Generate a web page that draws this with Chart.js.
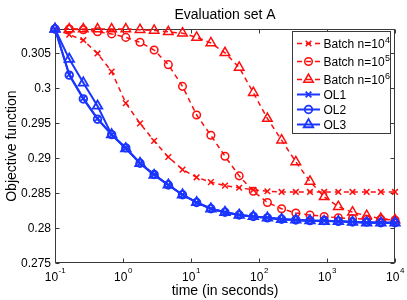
<!DOCTYPE html>
<html>
<head>
<meta charset="utf-8">
<script src="https://cdn.jsdelivr.net/npm/chart.js@4/dist/chart.umd.min.js"></script>
<style>
  html, body { margin: 0; padding: 0; background: #fff; }
  canvas { display: block; }
</style>
</head>
<body>
<canvas id="evalChart" width="407" height="300"></canvas>
<script>
// time (s) of each sample
const times = [0.1, 0.162, 0.261, 0.422, 0.681, 1.10, 1.78, 2.87, 4.64, 7.50, 12.1, 19.6, 31.6,
               51.1, 82.5, 133, 215, 348, 562, 909, 1468, 2371, 3831, 6190, 10000];

const batch4 = [0.3085, 0.3077, 0.3069, 0.3050, 0.3024, 0.2979, 0.2950, 0.2925, 0.2902, 0.2884, 0.2873, 0.2866, 0.2861,
                0.2858, 0.2855, 0.2853, 0.2852, 0.2852, 0.2852, 0.2852, 0.2852, 0.2852, 0.2852, 0.2852, 0.2852];
const batch5 = [0.3085, 0.3085, 0.3084, 0.3081, 0.3078, 0.3073, 0.3066, 0.3055, 0.3034, 0.3003, 0.2962, 0.2933, 0.2903,
                0.2875, 0.2853, 0.2837, 0.2828, 0.2822, 0.2819, 0.2817, 0.2815, 0.2814, 0.2813, 0.2813, 0.2812];
const batch6 = [0.3085, 0.3085, 0.3085, 0.3085, 0.3085, 0.3085, 0.3084, 0.3083, 0.3081, 0.3079, 0.3073, 0.3065, 0.3051,
                0.3030, 0.2994, 0.2957, 0.2926, 0.2895, 0.2867, 0.2845, 0.2831, 0.2823, 0.2818, 0.2814, 0.2812];
const ol1 = [0.3085, 0.3020, 0.2986, 0.2957, 0.2934, 0.2915, 0.2893, 0.2877, 0.2862, 0.2848, 0.2837, 0.2828, 0.2823,
             0.2819, 0.2817, 0.2815, 0.2813, 0.2812, 0.2811, 0.2811, 0.2810, 0.2809, 0.2808, 0.2808, 0.2808];
const ol2 = [0.3085, 0.3019, 0.2985, 0.2956, 0.2934, 0.2915, 0.2893, 0.2877, 0.2862, 0.2848, 0.2837, 0.2828, 0.2823,
             0.2819, 0.2817, 0.2815, 0.2813, 0.2812, 0.2811, 0.2811, 0.2810, 0.2809, 0.2809, 0.2808, 0.2808];
const ol3 = [0.3085, 0.3042, 0.3008, 0.2975, 0.2934, 0.2914, 0.2893, 0.2876, 0.2862, 0.2848, 0.2837, 0.2828, 0.2823,
             0.2819, 0.2817, 0.2815, 0.2813, 0.2812, 0.2811, 0.2810, 0.2810, 0.2809, 0.2808, 0.2808, 0.2808];

const seriesNames = ["Batch n=10", "Batch n=10", "Batch n=10", "OL1", "OL2", "OL3"];
const seriesExps = ["4", "5", "6", "", "", ""];

const xTickValues = [0.1, 1, 10, 100, 1000, 10000];
const xTickExps = ["-1", "0", "1", "2", "3", "4"];
const yTickValues = [0.275, 0.28, 0.285, 0.29, 0.295, 0.3, 0.305];

const titleText = "Evaluation set A";
const xTitle = "time (in seconds)";
const yTitle = "Objective function";

const FONT = "'Liberation Sans', Arial, Helvetica, sans-serif";
const RED = "#ff0d0d";
const BLUE = "#1a35ff";

function pts(vals) {
    return times.map((t, i) => ({ x: t, y: vals[i] }));
}

function batchSet(vals, i, style, r) {
    return {
        label: seriesNames[i] + seriesExps[i],
        data: pts(vals),
        borderColor: RED,
        borderWidth: 1.5,
        borderDash: [5, 4],
        pointStyle: style,
        pointRadius: r,
        pointBorderWidth: 1.5,
        pointBorderColor: RED,
        pointBackgroundColor: "rgba(0,0,0,0)",
        tension: 0,
        clip: false,
        order: 2
    };
}

function olSet(vals, i, style, r) {
    return {
        label: seriesNames[i],
        data: pts(vals),
        borderColor: BLUE,
        borderWidth: 2,
        pointStyle: style,
        pointRadius: r,
        pointBorderWidth: 1.8,
        pointBorderColor: BLUE,
        pointBackgroundColor: "rgba(0,0,0,0)",
        tension: 0,
        clip: false,
        order: 1
    };
}

const markerStyles = ["crossRot", "circle", "triangle", "crossRot", "circle", "triangle"];
const markerSizes = [4, 3.8, 5.5, 4, 3.8, 5.5];

function drawMarker(ctx, style, x, y, r) {
    ctx.beginPath();
    if (style === "circle") {
        ctx.arc(x, y, r, 0, Math.PI * 2);
    } else if (style === "triangle") {
        for (let k = 0; k < 3; k++) {
            const a = k * 2 * Math.PI / 3;
            const px = x + Math.sin(a) * r, py = y - Math.cos(a) * r;
            if (k === 0) ctx.moveTo(px, py); else ctx.lineTo(px, py);
        }
        ctx.closePath();
    } else {
        const d = r * Math.SQRT1_2;
        ctx.moveTo(x - d, y - d); ctx.lineTo(x + d, y + d);
        ctx.moveTo(x + d, y - d); ctx.lineTo(x - d, y + d);
    }
    ctx.stroke();
}

// axes box, inward ticks, titles, power-of-ten labels and the legend
const decor = {
    id: "decor",
    beforeDatasetsDraw(chart) {
        const { ctx, chartArea: a, scales } = chart;
        const L = Math.round(a.left) + 0.5, R = Math.round(a.right) - 0.5;
        const T = Math.round(a.top) + 0.5, B = Math.round(a.bottom) - 0.5;
        ctx.save();
        ctx.strokeStyle = "#3a3a3a";
        ctx.lineWidth = 1;
        ctx.strokeRect(L, T, R - L, B - T);
        ctx.beginPath();
        xTickValues.forEach(v => {
            const x = Math.round(scales.x.getPixelForValue(v)) + 0.5;
            ctx.moveTo(x, B); ctx.lineTo(x, B - 4);
            ctx.moveTo(x, T); ctx.lineTo(x, T + 4);
        });
        yTickValues.forEach(v => {
            const y = Math.round(scales.y.getPixelForValue(v)) + 0.5;
            ctx.moveTo(L, y); ctx.lineTo(L + 4, y);
            ctx.moveTo(R, y); ctx.lineTo(R - 4, y);
        });
        ctx.stroke();
        ctx.restore();
    },
    afterDraw(chart) {
        const { ctx, chartArea: a, scales } = chart;
        const cx = (a.left + a.right) / 2;
        ctx.save();
        ctx.fillStyle = "#000";
        ctx.textBaseline = "alphabetic";

        ctx.font = "14px " + FONT;
        ctx.textAlign = "center";
        ctx.fillText(titleText, cx, 18.5);
        ctx.fillText(xTitle, cx, 294.5);

        ctx.save();
        ctx.translate(15.5, (a.top + a.bottom) / 2);
        ctx.rotate(-Math.PI / 2);
        ctx.fillText(yTitle, 0, 0);
        ctx.restore();

        // x tick labels 10^k
        ctx.textAlign = "left";
        xTickValues.forEach((v, i) => {
            const x = scales.x.getPixelForValue(v);
            ctx.font = "12px " + FONT;
            const wb = ctx.measureText("10").width;
            ctx.font = "8px " + FONT;
            const we = ctx.measureText(xTickExps[i]).width;
            const x0 = x - (wb + we) / 2;
            ctx.font = "12px " + FONT;
            ctx.fillText("10", x0, 280.8);
            ctx.font = "8px " + FONT;
            ctx.fillText(xTickExps[i], x0 + wb + 0.5, 273);
        });

        // legend
        const lx = 292.5, ly = 31.5, lw = 98, lh = 102;
        ctx.fillStyle = "#fff";
        ctx.fillRect(lx, ly, lw, lh);
        ctx.strokeStyle = "#3a3a3a";
        ctx.lineWidth = 1;
        ctx.strokeRect(lx, ly, lw, lh);

        seriesNames.forEach((name, i) => {
            const yc = i < 3 ? 43.5 + 18 * i : 94.5 + 15 * (i - 3);
            const col = i < 3 ? RED : BLUE;
            ctx.strokeStyle = col;
            ctx.lineWidth = i < 3 ? 1.5 : 2;
            ctx.setLineDash(i < 3 ? [5, 4] : []);
            ctx.beginPath();
            ctx.moveTo(297, yc); ctx.lineTo(320, yc);
            ctx.stroke();
            ctx.setLineDash([]);
            ctx.lineWidth = i < 3 ? 1.5 : 1.8;
            drawMarker(ctx, markerStyles[i], 308.5, yc, markerSizes[i]);

            ctx.fillStyle = "#000";
            ctx.font = "12px " + FONT;
            ctx.fillText(name, 323.5, yc + 4.2);
            if (seriesExps[i]) {
                const w = ctx.measureText(name).width;
                ctx.font = "9px " + FONT;
                ctx.fillText(seriesExps[i], 323.5 + w + 0.5, yc - 0.3);
            }
        });
        ctx.restore();
    }
};

const ctx = document.getElementById("evalChart").getContext("2d");

const chart = new Chart(ctx, {
    type: "line",
    data: {
        datasets: [
            batchSet(batch4, 0, markerStyles[0], markerSizes[0]),
            batchSet(batch5, 1, markerStyles[1], markerSizes[1]),
            batchSet(batch6, 2, markerStyles[2], markerSizes[2]),
            olSet(ol1, 3, markerStyles[3], markerSizes[3]),
            olSet(ol2, 4, markerStyles[4], markerSizes[4]),
            olSet(ol3, 5, markerStyles[5], markerSizes[5])
        ]
    },
    options: {
        responsive: false,
        animation: false,
        devicePixelRatio: 1,
        layout: { padding: { top: 29, right: 12, left: 0, bottom: 0 } },
        plugins: {
            legend: { display: false },
            title: { display: false },
            tooltip: { enabled: false }
        },
        scales: {
            x: {
                type: "logarithmic",
                min: 0.1,
                max: 10000,
                grid: { display: false, drawTicks: false },
                border: { display: false },
                ticks: { display: false },
                afterBuildTicks: s => { s.ticks = xTickValues.map(v => ({ value: v })); },
                afterFit: s => { s.height = 36.7; }
            },
            y: {
                min: 0.275,
                max: 0.3085,
                grid: { display: false, drawTicks: false },
                border: { display: false },
                ticks: {
                    padding: 4,
                    color: "#000",
                    font: { family: FONT, size: 12 },
                    callback: v => String(+Number(v).toFixed(3))
                },
                afterBuildTicks: s => { s.ticks = yTickValues.map(v => ({ value: v })); },
                afterFit: s => { s.width = 55; }
            }
        }
    },
    plugins: [decor]
});
</script>
</body>
</html>
